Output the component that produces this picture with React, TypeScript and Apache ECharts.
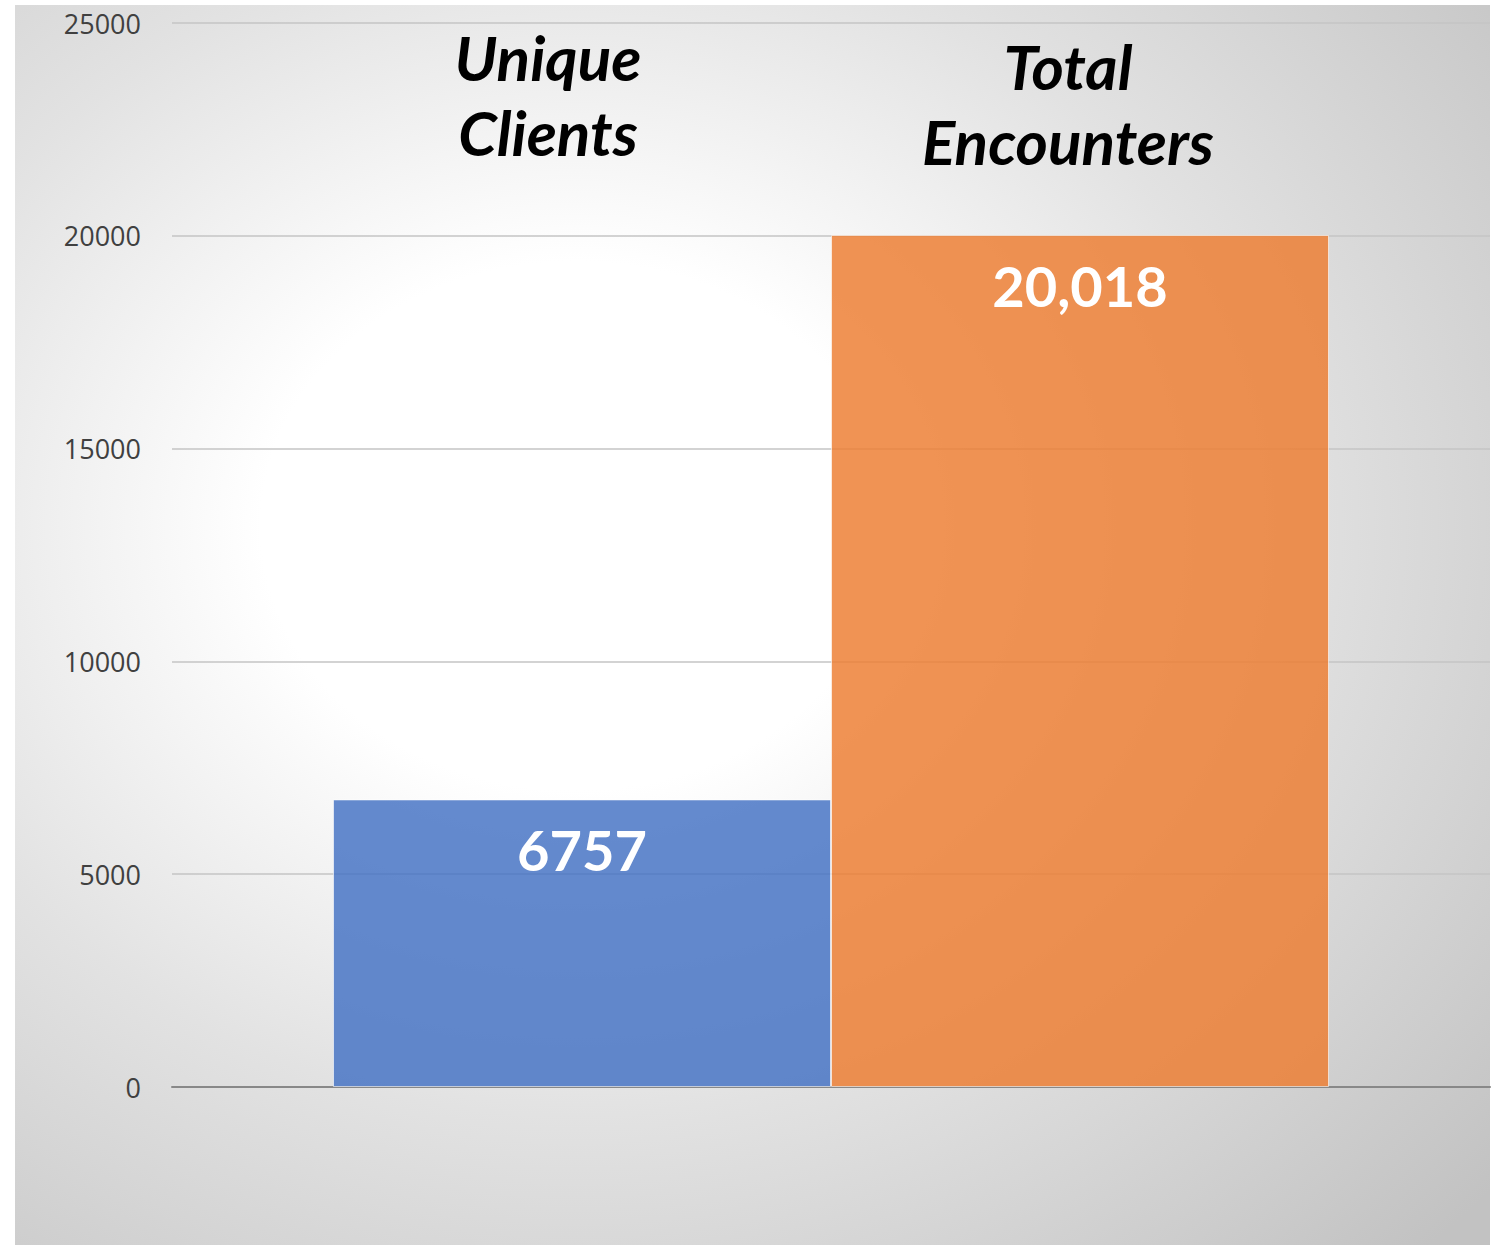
import React, { useEffect, useRef } from "react";
import * as echarts from "echarts";

const categories = [""];
const seriesNames = ["Unique\nClients", "Total\nEncounters"];
const uniqueClients = [6757];
const totalEncounters = [20018];
const valueLabels = ["6757", "20,018"];
const yTicks = [0, 5000, 10000, 15000, 20000, 25000];

export default function App() {
  const ref = useRef<HTMLDivElement>(null);
  useEffect(() => {
    const chart = echarts.init(ref.current!, null, { renderer: "svg" });
    const labelCommon = {
      show: true,
      position: "insideTop",
      distance: 22,
      color: "#ffffff",
      fontWeight: "bold",
      fontSize: 56,
      fontFamily: "Lato, 'Open Sans', sans-serif",
    };
    const titleStyle = {
      fontSize: 62,
      fontWeight: "bold",
      fontStyle: "italic",
      color: "#000",
      lineHeight: 75,
      fontFamily: "Lato, 'Open Sans', sans-serif",
    };
    chart.setOption({
      animation: false,
      backgroundColor: "#ffffff",
      graphic: [
        {
          type: "rect",
          z: -10,
          silent: true,
          shape: { x: 15, y: 5, width: 1475, height: 1240 },
          style: {
            fill: new echarts.graphic.RadialGradient(0.38, 0.42, 0.82, [
              { offset: 0, color: "#ffffff" },
              { offset: 0.26, color: "#ffffff" },
              { offset: 0.58, color: "#e2e2e2" },
              { offset: 1, color: "#c2c2c2" },
            ]),
          },
        },
      ],
      title: [
        {
          text: seriesNames[0],
          left: 543,
          top: 14,
          textAlign: "center",
          textStyle: titleStyle,
        },
        {
          text: seriesNames[1],
          left: 1063,
          top: 23,
          textAlign: "center",
          textStyle: titleStyle,
        },
      ],
      grid: { left: 172, right: 1, top: 23, bottom: 158, containLabel: false },
      xAxis: {
        type: "category",
        data: categories,
        axisLine: { show: true, lineStyle: { color: "#888888", width: 2 } },
        axisTick: { show: false },
        axisLabel: { show: false },
      },
      yAxis: {
        type: "value",
        min: yTicks[0],
        max: yTicks[yTicks.length - 1],
        interval: 5000,
        axisLine: { show: false },
        axisTick: { show: false },
        axisLabel: {
          color: "#404040",
          fontSize: 27,
          margin: 31,
          fontFamily: "'Open Sans', sans-serif",
          formatter: (v: number) => String(v),
        },
        splitLine: { lineStyle: { color: "#c4c4c4", width: 1.5 } },
      },
      series: [
        {
          name: "Unique Clients",
          type: "bar",
          data: uniqueClients,
          barWidth: 498,
          barGap: "0%",
          itemStyle: {
            color: "rgba(68,114,196,0.83)",
            borderColor: "rgba(255,255,255,0.6)",
            borderWidth: 1,
          },
          label: { ...labelCommon, formatter: () => valueLabels[0] },
        },
        {
          name: "Total Encounters",
          type: "bar",
          data: totalEncounters,
          barWidth: 498,
          itemStyle: {
            color: "rgba(237,125,49,0.83)",
            borderColor: "rgba(255,255,255,0.6)",
            borderWidth: 1,
          },
          label: { ...labelCommon, formatter: () => valueLabels[1] },
        },
      ],
    });
    return () => chart.dispose();
  }, []);
  return (
    <div
      ref={ref}
      style={{ position: "fixed", left: 0, top: 0, width: 1491, height: 1245 }}
    />
  );
}
